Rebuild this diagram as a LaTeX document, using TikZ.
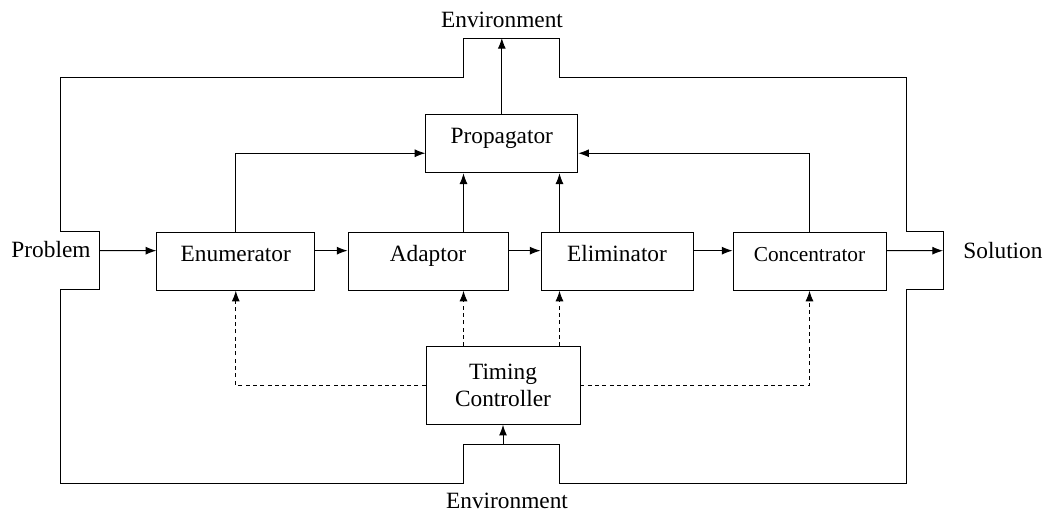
\documentclass[tikz,border=0pt]{standalone}
\usepackage{fontspec}
\setmainfont{Liberation Serif}
\usetikzlibrary{arrows.meta}
\tikzset{
  block/.style={draw, line width=0.7pt, minimum height=43.5pt, inner sep=0pt},
  unit/.style={block, text height=11pt, text depth=11pt},
  flow/.style={line width=0.7pt, -{Latex[length=8pt,width=6pt]}},
  timed/.style={flow, dash pattern=on 3pt off 2.5pt},
}

\begin{document}
\begin{tikzpicture}[x=0.75pt, y=-0.75pt, font=\fontsize{17.5}{20}\selectfont]
    \useasboundingbox (0,0) rectangle (1047,514);
    \draw[line width=0.7pt] (60,77) -- (463.5,77) -- (463.5,38) -- (559.5,38) -- (559.5,77) -- (906,77)
      -- (906,231.5) -- (943,231.5) -- (943,289.5) -- (906,289.5) -- (906,483) -- (559.5,483)
      -- (559.5,444) -- (463.5,444) -- (463.5,483) -- (60,483) -- (60,289.5) -- (99,289.5)
      -- (99,231.5) -- (60,231.5) -- cycle;
    \coordinate (colL) at (463.5,0);
    \coordinate (colR) at (559.5,0);
    \coordinate (envout) at (501.8,38);
    \coordinate (envin) at (503,444);
    \coordinate (probin) at (99,250.7);
    \coordinate (solout) at (943,250.7);
    \node[unit, minimum width=114pt] (prop) at (501.8,143.9) {Propagator};
    \node[unit, minimum width=118.5pt] (enum) at (235.8,261.2) {Enumerator};
    \node[unit, minimum width=120pt] (adapt) at (428,261.2) {Adaptor};
    \node[unit, minimum width=114pt] (elim) at (617,261.2) {Eliminator};
    \node[unit, minimum width=114.75pt, font=\fontsize{16}{20}\selectfont] (conc) at (809.5,261.2) {Concentrator};
    \node[block, minimum width=115.5pt, minimum height=58.2pt, align=center] (timing) at (503,385.5) {Timing\\Controller};
    \node[anchor=base] (envtop) at (502,27) {Environment};
    \node[anchor=base] (envbot) at (507,508) {Environment};
    \node[anchor=base] (prob) at (51,257.3) {Problem};
    \node[anchor=base] (sol) at (1003,258.3) {Solution};
    \draw[flow] (prop.north) -- (envout);
    \draw[flow] (envin) -- (timing.south);
    \draw[flow] (probin) -- ([yshift=7.9pt]enum.west);
    \draw[flow] ([yshift=7.9pt]enum.east) -- ([yshift=7.9pt]adapt.west);
    \draw[flow] ([yshift=7.9pt]adapt.east) -- ([yshift=7.9pt]elim.west);
    \draw[flow] ([yshift=7.9pt]elim.east) -- ([yshift=7.9pt]conc.west);
    \draw[flow] ([yshift=7.9pt]conc.east) -- (solout);
    \draw[flow] (enum.north) |- ([yshift=-7pt]prop.west);
    \draw[flow] (conc.north) |- ([yshift=-7pt]prop.east);
    \draw[flow] (adapt.north -| colL) -- (prop.south -| colL);
    \draw[flow] (elim.north -| colR) -- (prop.south -| colR);
    \draw[timed] (timing.west) -| (enum.south);
    \draw[timed] (timing.east) -| (conc.south);
    \draw[timed] (timing.north -| colL) -- (adapt.south -| colL);
    \draw[timed] (timing.north -| colR) -- (elim.south -| colR);
  \end{tikzpicture}
\end{document}
